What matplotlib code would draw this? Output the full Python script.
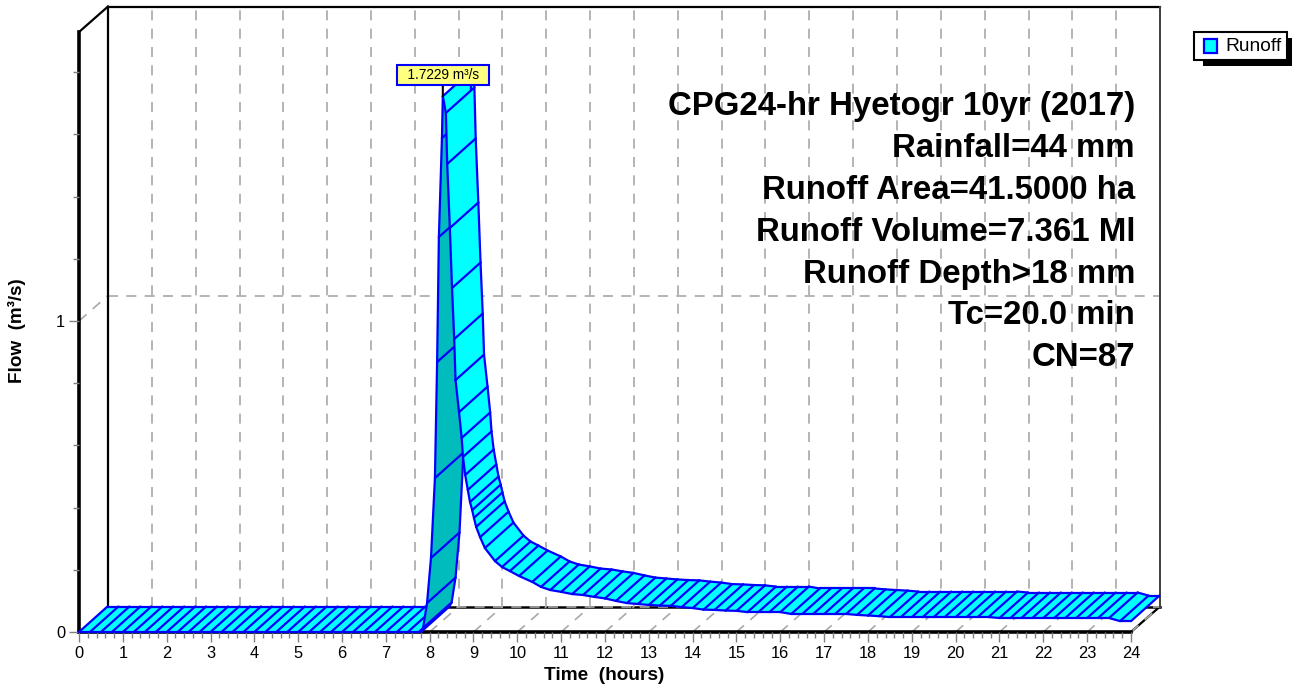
#!/usr/local/bin/python3

import numpy as np
import matplotlib
matplotlib.use("Agg")
import matplotlib.pyplot as plt
from matplotlib.patches import Polygon, Patch, Rectangle
from matplotlib.legend_handler import HandlerPatch

plt.rcParams['font.family'] = ['Liberation Sans', 'DejaVu Sans']

# hydrograph samples
hours = [0, .25, .5, .75, 1, 1.25, 1.5, 1.75, 2, 2.25, 2.5, 2.75, 3, 3.25, 3.5, 3.75,
         4, 4.25, 4.5, 4.75, 5, 5.25, 5.5, 5.75, 6, 6.25, 6.5, 6.75, 7, 7.25, 7.5, 7.75,
         7.8, 7.85, 7.94, 8.03, 8.12, 8.17, 8.21, 8.28, 8.30,
         8.37, 8.40, 8.46, 8.51, 8.56, 8.59, 8.67, 8.73, 8.76, 8.81, 8.87, 8.92, 8.97,
         9.01, 9.06, 9.15, 9.26, 9.49, 9.65, 9.83, 10.04, 10.34, 10.54,
         10.75, 11, 11.25, 11.5, 11.75, 12, 12.25, 12.5, 12.75, 13, 13.25, 13.5, 13.75,
         14, 14.25, 14.5, 14.75, 15, 15.25, 15.5, 15.75, 16, 16.25, 16.5, 16.75, 17, 17.25,
         17.5, 17.75, 18, 18.25, 18.5, 18.75, 19, 19.25, 19.5, 19.75, 20, 20.25, 20.5, 20.75,
         21, 21.25, 21.5, 21.75, 22, 22.25, 22.5, 22.75, 23, 23.25, 23.5, 23.75, 24]
flow = [0, 0, 0, 0, 0, 0, 0, 0, 0, 0, 0, 0, 0, 0, 0, 0,
        0, 0, 0, 0, 0, 0, 0, 0, 0, 0, 0, 0, 0, 0, 0, 0,
        0, .013, .093, .238, .495, .868, 1.27, 1.588, 1.7229,
        1.669, 1.505, 1.299, 1.106, .942, .81, .707, .624, .563, .505, .457, .418, .392,
        .367, .338, .305, .27, .228, .209, .196, .18, .161, .145,
        .135, .129, .122, .119, .113, .108, .1, .093, .09, .087, .085, .084, .08,
        .077, .072, .071, .069, .068, .064, .064, .064, .064, .058, .058, .058, .058, .058,
        .058, .055, .053, .051, .048, .048, .048, .048, .048, .048, .048, .048, .048, .048,
        .045, .045, .045, .045, .045, .045, .045, .045, .045, .045, .045, .035, .035]

info_lines = ["CPG24-hr Hyetogr 10yr (2017)", "Rainfall=44 mm", "Runoff Area=41.5000 ha",
              "Runoff Volume=7.361 Ml", "Runoff Depth>18 mm", "Tc=20.0 min", "CN=87"]
peak_label = "\u00a0\u00a01.7229 m\u00b3/s\u00a0\u00a0"

W, H = 1294, 687
x0, x1, y0, ytop = 79, 1131, 632, 32
px_x = (x1 - x0) / 24.0
px_y = 311.0
# depth of the 3d box, in data units
dx, dy = 29 / px_x, 25.5 / px_y
# ribbon depth
rx, ry = 28.5 / px_x, 25.5 / px_y


def legend_swatch(legend, orig_handle, xdescent, ydescent, width, height, fontsize):
    return Rectangle((3.3, -1.5), 9.4, 10)


fig = plt.figure(figsize=(W / 100, H / 100), dpi=100)
ax = fig.add_axes([x0 / W, 1 - y0 / H, (x1 - x0) / W, (y0 - ytop) / H])
ax.patch.set_visible(False)
ax.set_xlim(0, 24)
ax.set_ylim(0, (y0 - ytop) / px_y)

for s in ['top', 'right']:
    ax.spines[s].set_visible(False)
ax.spines['left'].set_linewidth(2.6)
ax.spines['bottom'].set_linewidth(2.6)
ax.spines['left'].set_zorder(1.5)
ax.spines['bottom'].set_zorder(1.5)

ax.set_xticks(np.arange(0, 25))
ax.set_xticks(np.arange(0, 24.01, 0.2), minor=True)
ax.set_yticks([0, 1])
ax.set_yticks(np.arange(0, 1.81, 0.2), minor=True)
ax.tick_params(which='major', length=7.5, width=1, color='#808080', labelsize=11.8, pad=2.5)
ax.tick_params(which='minor', length=4, width=1, color='#808080')

GRID = dict(color='#a8a8a8', lw=1.2, ls=(0, (6, 5)), clip_on=False)
ytop_back = ax.get_ylim()[1]
# box frame
ax.plot([dx, 24 + dx], [dy, dy], color='black', lw=1.8, clip_on=False, zorder=1)
ax.plot([dx, dx], [dy, ytop_back + dy], color='black', lw=1.6, clip_on=False, zorder=1.2)
ax.plot([dx, 24 + dx], [ytop_back + dy] * 2, color='black', lw=1.6, clip_on=False, zorder=1)
ax.plot([0, dx], [ytop_back, ytop_back + dy], color='black', lw=1.6, clip_on=False, zorder=1)
ax.plot([24 + dx, 24 + dx], [dy, ytop_back + dy], color='#404040', lw=1.4, clip_on=False, zorder=1.2)
ax.plot([24, 24 + dx], [0, dy], color='black', lw=1.6, clip_on=False, zorder=1)

# grid on floor and back wall
for t in range(25):
    ax.plot([t, t + dx], [0, dy], zorder=1.1, **GRID)
    ax.plot([t + dx, t + dx], [dy, ytop_back + dy], zorder=1.1, **GRID)
ax.plot([0, dx], [1, 1 + dy], zorder=1.1, **GRID)
ax.plot([dx, 24 + dx], [1 + dy, 1 + dy], zorder=1.1, **GRID)
ax.plot([dx, 24 + dx], [dy, dy], zorder=1.1, **GRID)

# ribbon, one strip per sample, later strips paint over earlier ones
# the hatch of a sample sits above the next strip or that strip hides half of it
EDGE = dict(color='#0000ff', lw=1.6, clip_on=False, solid_capstyle='round')
z = 2.0
ax.plot([hours[0], hours[0] + rx], [flow[0], flow[0] + ry], zorder=z + 0.001, **EDGE)
for i in range(len(hours) - 1):
    ta, tb = hours[i], hours[i + 1]
    qa, qb = flow[i], flow[i + 1]
    col = '#00bcbc' if qb > qa else '#00ffff'
    ax.add_patch(Polygon([(ta, qa), (tb, qb), (tb + rx, qb + ry), (ta + rx, qa + ry)],
                         closed=True, fc=col, ec='none', clip_on=False, zorder=z))
    ax.plot([ta, tb], [qa, qb], zorder=z + 0.0035, **EDGE)
    ax.plot([ta + rx, tb + rx], [qa + ry, qb + ry], zorder=z + 0.0035, **EDGE)
    ax.plot([tb, tb + rx], [qb, qb + ry], zorder=z + 0.0035, **EDGE)
    z += 0.002

# peak marker
ipk = int(np.argmax(flow))
ax.annotate(peak_label, xy=(hours[ipk], flow[ipk]), xytext=(0, 15), textcoords='offset points',
            ha='center', va='center', fontsize=9.8, zorder=6, annotation_clip=False,
            bbox=dict(boxstyle='square,pad=0.22', fc='#ffff80', ec='#0000ff', lw=1.5),
            arrowprops=dict(arrowstyle='-', color='black', lw=1.5, shrinkA=0, shrinkB=0))

# info block
for i, line in enumerate(info_lines):
    fig.text(1135 / W, 1 - (107 + i * 41.8) / H, line, ha='right', va='center',
             fontsize=23.8, fontweight='bold', color='black', zorder=7)

fig.text(604.5 / W, 1 - 675 / H, "Time  (hours)", ha='center', va='center', fontsize=13.7, fontweight='bold')
fig.text(17 / W, 1 - 331 / H, "Flow  (m\u00b3/s)", ha='center', va='center', rotation=90,
         fontsize=13.6, fontweight='bold')

# legend with its hard shadow
fig.add_artist(Rectangle((1203 / W, 1 - 66 / H), 89 / W, 28 / H, transform=fig.transFigure,
                         fc='black', ec='none', zorder=-1))
handle = Patch(fc='#00ffff', ec='#0000ff', lw=1.6, label='Runoff')
leg = ax.legend(handles=[handle], handler_map={handle: HandlerPatch(patch_func=legend_swatch)},
                loc='upper left', bbox_to_anchor=(1194 / W, 1 - 32 / H), bbox_transform=fig.transFigure,
                fancybox=False, framealpha=1, edgecolor='black', fontsize=13.8,
                handlelength=1.2, handleheight=0.8, handletextpad=0.19, borderpad=0.27, borderaxespad=0)
leg.get_frame().set_linewidth(1.5)
leg.set_zorder(8)

fig.savefig("out.png", dpi=100)
